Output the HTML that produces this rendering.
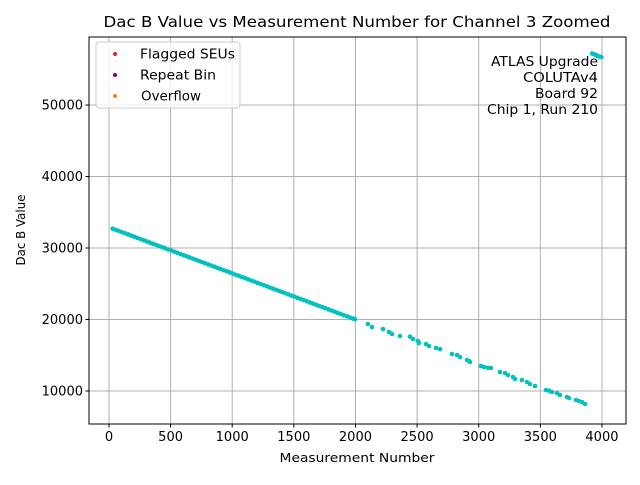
<!DOCTYPE html>
<html><head><meta charset="utf-8"><style>
body{margin:0;background:#fff;font-family:"Liberation Sans","DejaVu Sans",sans-serif;}
svg text{font-family:"DejaVu Sans","Liberation Sans",sans-serif;}
</style></head><body>
<svg id="chart" width="640" height="480" xmlns="http://www.w3.org/2000/svg">
<rect width="640" height="480" fill="#fff"/>
<text x="357" y="27" text-anchor="middle" font-size="15" textLength="507" lengthAdjust="spacingAndGlyphs">Dac B Value vs Measurement Number for Channel 3 Zoomed</text>
<text x="357" y="462" text-anchor="middle" font-size="12.5" textLength="155" lengthAdjust="spacingAndGlyphs">Measurement Number</text>
<text x="25" y="230" text-anchor="middle" font-size="12.5" textLength="71" lengthAdjust="spacingAndGlyphs" transform="rotate(-90 25 230)">Dac B Value</text>
<g id="grid"></g><g id="marks"></g><g id="ticks"></g>
<rect x="89" y="37" width="537" height="387" fill="none" stroke="#000" stroke-width="1"/>
<g>
<rect x="96" y="42" width="144" height="66" rx="3" fill="#fff" fill-opacity="0.8" stroke="#ccc"/>
<g><circle cx="115" cy="54" r="2" fill="#d62728"/><text x="140" y="58.5" font-size="13" textLength="95" lengthAdjust="spacingAndGlyphs">Flagged SEUs</text></g>
<g><circle cx="115" cy="75" r="2" fill="#800080"/><text x="140" y="79.5" font-size="13" textLength="76" lengthAdjust="spacingAndGlyphs">Repeat Bin</text></g>
<g><circle cx="115" cy="96" r="2" fill="#ff7f0e"/><text x="141" y="100.5" font-size="13" textLength="60" lengthAdjust="spacingAndGlyphs">Overflow</text></g>
</g>
<g font-size="13.5" text-anchor="end">
<text x="598" y="66" textLength="107" lengthAdjust="spacingAndGlyphs">ATLAS Upgrade</text>
<text x="598" y="82" textLength="75" lengthAdjust="spacingAndGlyphs">COLUTAv4 </text>
<text x="598" y="98" textLength="63" lengthAdjust="spacingAndGlyphs">Board 92</text>
<text x="598" y="114" textLength="111" lengthAdjust="spacingAndGlyphs">Chip 1, Run 210</text>
</g>
</svg>
<script>
const xTicks=[0,500,1000,1500,2000,2500,3000,3500,4000];
const yTicks=[10000,20000,30000,40000,50000];
const measX=[30,55,80,105,130,155,180,205,230,255,280,305,330,355,380,405,430,455,480,505,530,555,580,605,630,655,680,705,730,755,780,805,830,855,880,905,930,955,980,1005,1030,1055,1080,1105,1130,1155,1180,1205,1230,1255,1280,1305,1330,1355,1380,1405,1430,1455,1480,1505,1530,1555,1580,1605,1630,1655,1680,1705,1730,1755,1780,1805,1830,1855,1880,1905,1930,1955,1980,
1996,2101,2134,2223,2272,2296,2361,2442,2467,2507,2515,2572,2596,2653,2686,2783,2824,2848,2905,2921,2929,3018,3043,3075,3099,3172,3213,3237,3278,3294,3351,3391,3416,3456,3546,3570,3594,3635,3659,3716,3732,3789,3813,3838,3862,
3920,3935,3950,3965,3980,3995];
const dacB=[32700,32545,32384,32223,32062,31900,31739,31578,31416,31255,31094,30933,30771,30610,30449,30288,30126,29965,29804,29643,29481,29320,29159,28998,28836,28675,28514,28353,28191,28030,27869,27708,27546,27385,27224,27063,26901,26740,26579,26418,26256,26095,25934,25773,25611,25450,25289,25128,24966,24805,24644,24483,24321,24160,23999,23838,23676,23515,23354,23193,23031,22870,22709,22548,22386,22225,22064,21903,21741,21580,21419,21258,21096,20935,20774,20613,20451,20290,20129,
20050,19371,18951,18671,18252,17972,17692,17600,17273,16993,16713,16573,16294,16014,15874,15175,15035,14755,14336,14196,14056,13497,13357,13250,13217,12657,12517,12238,11958,11678,11538,11259,10979,10699,10140,10050,9860,9720,9441,9161,9021,8741,8601,8462,8182,
57200,57100,57000,56850,56750,56700];
const NS="http://www.w3.org/2000/svg";
const X0=89,X1=626,Y0=424,Y1=37;
const xMin=-162,xMax=4195,yMin=5385,yMax=59510;
function sx(v){return X0+(v-xMin)/(xMax-xMin)*(X1-X0);}
function sy(v){return Y0-(v-yMin)/(yMax-yMin)*(Y0-Y1);}
function mk(t,a,p){const e=document.createElementNS(NS,t);for(const k in a)e.setAttribute(k,a[k]);p.appendChild(e);return e;}
const grid=document.getElementById('grid'),ticks=document.getElementById('ticks'),marks=document.getElementById('marks');
xTicks.forEach(v=>{const x=sx(v);
 const g=mk('line',{x1:x,x2:x,y1:Y1,y2:Y0,stroke:'#b0b0b0','stroke-width':1},grid);
 
 
 mk('line',{x1:x,x2:x,y1:Y0,y2:Y0+3.5,stroke:'#000'},ticks);
 const t=mk('text',{x:x,y:Y0+17,'text-anchor':'middle','font-size':13},ticks);t.textContent=v;
 
 
});
yTicks.forEach(v=>{const y=sy(v);
 const g=mk('line',{x1:X0,x2:X1,y1:y,y2:y,stroke:'#b0b0b0','stroke-width':1},grid);
 
 
 mk('line',{x1:X0-3.5,x2:X0,y1:y,y2:y,stroke:'#000'},ticks);
 const t=mk('text',{x:X0-6,y:y+4.5,'text-anchor':'end','font-size':13},ticks);t.textContent=v;
 
 
});
measX.forEach((v,i)=>{
 const c=mk('circle',{cx:sx(v),cy:sy(dacB[i]),r:2.3,fill:'#00c0c0'},marks);
 
 
});
</script>
</body></html>
